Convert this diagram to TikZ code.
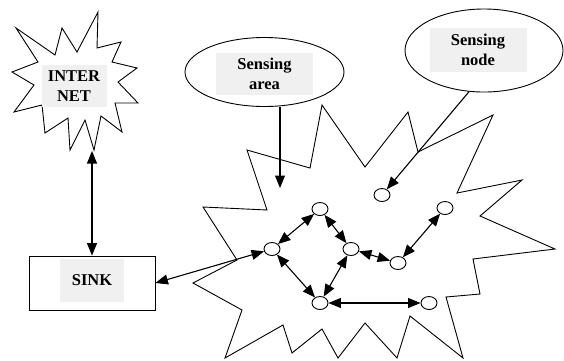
\documentclass[tikz,border=0pt]{standalone}
\usepackage{fontspec}
\setmainfont{Liberation Serif}
\usetikzlibrary{arrows.meta,shapes.geometric}

\begin{document}
\begin{tikzpicture}[
  x=1pt,y=-1pt,
  font=\fontsize{16.5}{19.5}\selectfont\bfseries,
  >={Triangle[length=12.5pt,width=10pt]},
  edge/.style={draw,line width=0.9pt,line join=miter},
  tag/.style={fill=black!6,align=center,inner sep=0pt,minimum height=42pt},
  mote/.style={draw,ellipse,line width=0.9pt,minimum width=16pt,
               minimum height=13pt,inner sep=0pt},
  bubble/.style={draw,ellipse,line width=0.9pt,inner sep=0pt},
  link/.style={<->,line width=1.1pt},
  feed/.style={->,line width=1.1pt},
]
\useasboundingbox (0,0) rectangle (564,360);

% ---- left: the internet cloud and the sink ----
\draw[edge] (16,28) -- (55,55) -- (62,28) -- (77,52) -- (98,12) -- (97,48)
      -- (121,42) -- (112,62) -- (137,68) -- (118,82) -- (138,103)
      -- (115,103) -- (122,132) -- (101,116) -- (94,150) -- (85,120)
      -- (70,150) -- (68,118) -- (45,133) -- (42,105) -- (14,112)
      -- (34,85) -- (12,72) -- (38,62) -- cycle;
\node[tag,minimum width=65pt] (inet) at (74,86) {INTER\\NET};
\coordinate (inetfoot) at (92,151);

\node[edge,minimum width=126pt,minimum height=54pt,inner sep=0pt] (sinkbox)
     at (92,283) {};
\node[tag,minimum width=64pt,minimum height=43pt] (sink) at (92,280) {SINK};

% ---- right: the sensing field ----
\draw[edge] (247,150) -- (310,168) -- (322,105) -- (365,167) -- (408,112)
      -- (418,152) -- (493,115) -- (457,193) -- (522,180) -- (480,216)
      -- (555,249) -- (473,259) -- (480,294) -- (446,297) -- (463,358)
      -- (410,316) -- (397,358) -- (365,323) -- (338,358) -- (322,329)
      -- (292,353) -- (283,325) -- (225,358) -- (242,310) -- (193,283)
      -- (237,260) -- (203,207) -- (267,210) -- cycle;
\coordinate (areatip) at (280,188);

\node[mote] (m1) at (272,249) {};
\node[mote] (m2) at (320,209) {};
\node[mote] (m3) at (351,249) {};
\node[mote] (m4) at (320,303) {};
\node[mote] (m5) at (382,195) {};
\node[mote] (m6) at (445,208) {};
\node[mote] (m7) at (398,263) {};
\node[mote] (m8) at (429,303) {};

% callouts
\node[bubble,minimum width=159pt,minimum height=69pt] (area) at (264.5,72) {};
\node[tag,minimum width=97pt] at (264.5,74) {Sensing\\area};
\node[bubble,minimum width=158pt,minimum height=83pt] (probe) at (484,50.5) {};
\node[tag,minimum width=97pt,minimum height=44pt] at (478,50) {Sensing\\node};

% ---- connectors ----
\draw[link] (inetfoot) -- (sinkbox.north);
\draw[link] (sinkbox.east) -- (m1);
\draw[link] (m1) -- (m2);
\draw[link] (m2) -- (m3);
\draw[link] (m1) -- (m4);
\draw[link] (m3) -- (m4);
\draw[link] (m3) -- (m7);
\draw[link] (m7) -- (m6);
\draw[link] (m4) -- (m8);

\draw[feed] (areatip |- area.south) -- (areatip);
\draw[feed] (probe.250) -- (m5);

\end{tikzpicture}
\end{document}
